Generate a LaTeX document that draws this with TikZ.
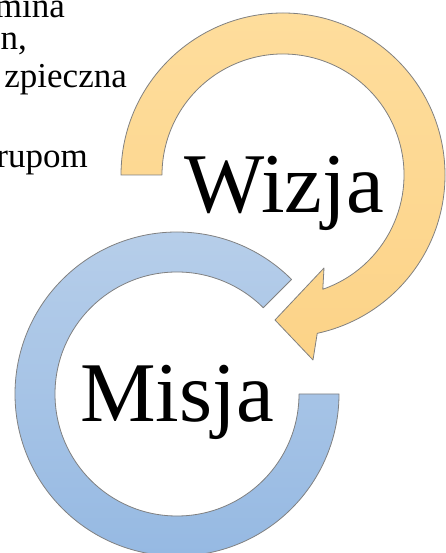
\documentclass[tikz,border=0pt]{standalone}
\usepackage{fontspec}
\setmainfont{Liberation Serif}
\usepackage{xcolor}
\usetikzlibrary{calc}
\definecolor{wizjatop}{RGB}{254,221,156}
\definecolor{wizjabot}{RGB}{252,211,136}
\definecolor{misjatop}{RGB}{184,207,234}
\definecolor{misjabot}{RGB}{148,184,226}
\tikzset{%
   ringline/.style={
      draw=black!50,
      line width=0.8pt,
      line join=round
   },
   wizjaring/.style={
      ringline,
      top color=wizjatop,
      bottom color=wizjabot
   },
   misjaring/.style={
      ringline,
      top color=misjatop,
      bottom color=misjabot
   },
   bigword/.style={
      font=\fontsize{85}{85}\selectfont,
      inner sep=0pt,
      anchor=base
   },
   sideword/.style={
      font=\fontsize{35}{40}\selectfont,
      inner sep=0pt,
      anchor=base east
   },
}
\begin{document}
\begin{tikzpicture}[x=1pt, y=1pt]
      \clip (0,0) rectangle (446,553);
      \coordinate (wc) at (283,378);
      \coordinate (mc) at (177,159);
      % head of the Wizja arrow
      \coordinate (tip) at (275,233);
      \coordinate (wingup) at (324,285);
      \coordinate (winglow) at (313,193);
      \path[misjaring] ($(mc)+(45:162)$) arc[start angle=45, end angle=360, radius=162]
         -- ($(mc)+(0:122)$) arc[start angle=360, end angle=45, radius=122] -- cycle;
      \path[wizjaring] ($(wc)+(180:162)$) arc[start angle=180, end angle=-77.8, radius=162]
         -- (winglow) -- (tip) -- (wingup)
         -- ($(wc)+(-70.8:121)$) arc[start angle=-70.8, end angle=180, radius=121] -- cycle;
      \node[bigword] (wizja) at ($(wc)+(1,-38)$) {Wizja};
      \node[bigword] (misja) at ($(mc)+(0,-28)$) {Misja};
      \node[sideword] (mina) at (65,535) {mina};
      \node[sideword] (linen) at (27,503) {n,};
      \node[sideword] (zpieczna) at (127,465) {zpieczna};
      \node[sideword] (rupom) at (88,385) {rupom};
\end{tikzpicture}
\end{document}
